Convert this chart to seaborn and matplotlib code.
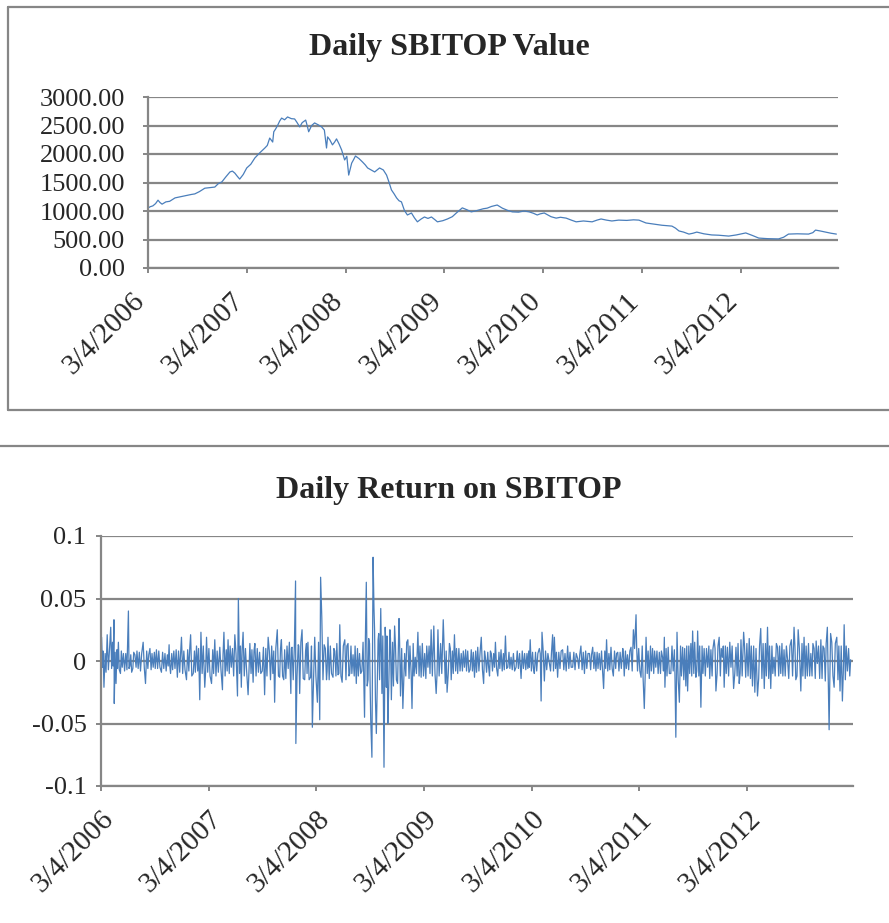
import matplotlib
matplotlib.use("Agg")
import matplotlib.pyplot as plt
import pandas as pd
import seaborn as sns
from matplotlib.lines import Line2D
from matplotlib.transforms import ScaledTranslation

# ---------------- data ----------------
start_date = "2006-03-04"

# daily SBITOP value: days after start date, index value
price_days = [0, 8, 18, 28, 37, 44, 52, 66, 80, 100, 120, 140, 160, 173, 190, 210, 228,
              247, 260, 273, 288, 303, 312, 321, 330, 339, 352, 365, 380, 395, 405, 413,
              422, 432, 441, 450, 461, 465, 472, 480, 487, 494, 505, 516, 530, 542, 550,
              561, 570, 583, 590, 594, 605, 616, 630, 642, 652, 660, 664, 672, 682, 690,
              697, 706, 716, 727, 735, 742, 753, 760, 767, 780, 793, 803, 812, 825, 838,
              856, 870, 882, 890, 900, 910, 919, 928, 937, 948, 959, 974, 985, 996, 1010,
              1022, 1035, 1048, 1060, 1070, 1090, 1107, 1125, 1140, 1162, 1180, 1195,
              1210, 1225, 1240, 1254, 1270, 1291, 1310, 1330, 1347, 1370, 1390, 1409,
              1425, 1439, 1450, 1465, 1490, 1509, 1525, 1546, 1565, 1583, 1610, 1642,
              1660, 1675, 1695, 1715, 1740, 1770, 1795, 1815, 1841, 1870, 1900, 1937,
              1950, 1963, 1980, 2000, 2015, 2029, 2055, 2084, 2110, 2147, 2175, 2210,
              2235, 2258, 2290, 2331, 2350, 2368, 2400, 2442, 2458, 2468, 2485, 2505,
              2525, 2545]
price_values = [1050, 1075, 1090, 1130, 1190, 1150, 1120, 1160, 1170, 1230, 1250, 1270,
                1290, 1300, 1340, 1400, 1410, 1420, 1480, 1510, 1600, 1685, 1700, 1665,
                1610, 1560, 1640, 1755, 1820, 1930, 1980, 2020, 2060, 2105, 2150, 2280,
                2210, 2390, 2440, 2510, 2580, 2630, 2600, 2650, 2620, 2615, 2560, 2475,
                2550, 2595, 2470, 2390, 2500, 2545, 2510, 2475, 2420, 2105, 2300, 2250,
                2160, 2210, 2265, 2180, 2070, 1895, 1960, 1630, 1840, 1900, 1965, 1920,
                1860, 1810, 1755, 1720, 1685, 1755, 1720, 1630, 1520, 1370, 1300, 1230,
                1180, 1160, 1010, 930, 965, 880, 810, 860, 895, 870, 895, 850, 810, 830,
                860, 900, 965, 1055, 1020, 985, 1000, 1020, 1040, 1050, 1080, 1105, 1050,
                1010, 985, 980, 1000, 985, 960, 930, 950, 965, 900, 875, 890, 875, 840,
                810, 825, 810, 840, 860, 840, 825, 840, 835, 845, 840, 790, 770, 750, 735,
                700, 650, 630, 595, 610, 630, 600, 580, 575, 560, 580, 615, 570, 525, 515,
                510, 540, 595, 600, 595, 620, 665, 650, 630, 610, 595]

# daily return, larger moves: days after start date, return
return_days = [2, 10, 21, 33, 39, 44, 45, 51, 59, 66, 76, 93, 98, 104, 115, 126, 143, 151,
               166, 177, 188, 205, 217, 231, 236, 247, 259, 273, 290, 304, 313, 324, 335,
               339, 352, 358, 375, 386, 403, 412, 417, 431, 442, 454, 463, 466, 476, 482,
               499, 505, 516, 522, 538, 547, 555, 567, 575, 589, 598, 606, 612, 620,
               623, 635, 644, 648, 660, 661, 669, 674, 682, 691, 697, 702, 711, 717, 725,
               734, 742, 745, 749, 757, 765, 770, 787, 793, 804, 810, 818, 827, 838, 844,
               855, 866, 877, 885, 894, 900, 906, 911, 915, 919, 923, 926, 931, 934, 940,
               945, 949, 953, 960, 964, 968, 973, 980, 985, 996, 1002, 1011, 1016, 1024,
               1030, 1041, 1052, 1055, 1066, 1075, 1086, 1098, 1109, 1120, 1129, 1137,
               1143, 1152, 1161, 1168, 1174, 1182, 1188, 1199, 1210, 1222, 1233, 1244, 1252,
               1256, 1267, 1278, 1290, 1298, 1304, 1318, 1324, 1338, 1346, 1357, 1372,
               1380, 1391, 1408, 1425, 1437, 1451, 1456, 1470, 1487, 1493, 1496, 1504,
               1521, 1532, 1538, 1549, 1566, 1583, 1600, 1617, 1628, 1640, 1657, 1668,
               1679, 1690, 1705, 1715, 1730, 1738, 1753, 1770, 1775, 1786, 1798, 1806,
               1815, 1820, 1832, 1843, 1849, 1860, 1871, 1882,
               1894, 1905, 1911, 1913, 1924, 1933, 1945, 1950, 1954, 1962, 1973, 1984,
               1990, 2001, 2007, 2018, 2024, 2035, 2046, 2058, 2069, 2080, 2086, 2097,
               2108, 2114, 2125, 2137, 2146, 2154, 2165, 2171, 2180, 2187, 2199, 2210,
               2218, 2227, 2238, 2250, 2261, 2272, 2283, 2295, 2306, 2317, 2329, 2342,
               2351, 2357, 2365, 2374, 2385, 2396, 2408, 2419, 2430, 2442, 2453, 2464,
               2470, 2475, 2487, 2496, 2507, 2515, 2521, 2532, 2543]
return_values = [0.019, -0.021, 0.021, 0.027, 0.015, 0.033, -0.034, -0.018, 0.015, -0.010,
                 0.006, 0.040, -0.004, -0.009, 0.005, -0.006, 0.015, -0.018, 0.010, -0.005,
                 0.009, -0.009, 0.006, 0.013, -0.010, 0.008, -0.013, 0.019, -0.015, 0.021,
                 -0.010, 0.012, -0.031, 0.023, -0.021, 0.019, -0.018, 0.017, 0.011, -0.023,
                 0.023, 0.017, -0.005, 0.021, -0.028, 0.050, -0.021, 0.023, -0.027, 0.014,
                 -0.017, 0.014, 0.007, -0.008, -0.027, 0.019, -0.015, -0.033, 0.025, -0.013,
                 0.017, -0.015,
                 0.009, -0.006, -0.026, 0.011, 0.064, -0.066, 0.013, -0.026, 0.025, -0.015,
                 0.014, 0.015, -0.013, -0.053, 0.019, -0.033, -0.047, 0.067, 0.035, 0.013,
                 -0.015, 0.019, -0.013, 0.008, -0.011, 0.029, -0.017, 0.017, 0.014, -0.010,
                 0.005, -0.018, 0.006, -0.008, -0.045, 0.063, -0.015, 0.014, -0.047, -0.077,
                 0.083, 0.042, -0.031, -0.058, 0.017, -0.015, 0.042, -0.026, -0.085, 0.027,
                 -0.021, -0.050, 0.025, -0.031, 0.028, -0.015, 0.034, -0.028, -0.038, 0.006,
                 0.017, -0.009, -0.038, 0.003, 0.023, -0.013, 0.006, -0.005, 0.025, 0.028,
                 -0.026, 0.025, 0.014, 0.033, -0.018, -0.025, 0.014, -0.015, 0.021, -0.010,
                 0.006, -0.005, 0.008, -0.007,
                 0.009, -0.013, 0.011, 0.019, -0.018, 0.003, -0.012, 0.006, 0.015, -0.012,
                 0.009, 0.020, -0.005, 0.003, -0.005, -0.014, 0.006, 0.008, 0.017, -0.010,
                 0.010, -0.032, 0.023, -0.016, -0.002, 0.021, 0.019, -0.013, 0.009, 0.012,
                 -0.005, 0.002, 0.012, -0.010, 0.006, 0.011, -0.008, 0.006, -0.022, 0.017,
                 0.011, -0.012, 0.007, 0.010, -0.012, 0.005, 0.011, 0.025, 0.037, -0.008,
                 -0.013, -0.038, 0.019, -0.014, 0.010, -0.005,
                 0.007, 0.003, 0.019, -0.021, 0.011, -0.010, 0.009, -0.061, 0.023, -0.033,
                 0.011, -0.020, -0.024, 0.014, 0.024, -0.013, 0.024, -0.037, 0.010, -0.005,
                 0.009, 0.017, -0.024, 0.019, 0.003, -0.021, 0.011, -0.005, -0.022, 0.011,
                 -0.018, 0.017, 0.023, -0.013, 0.018, -0.020, -0.025, -0.028, 0.026, -0.022,
                 0.027, -0.022, 0.003, 0.011, -0.010, 0.009, 0.001, 0.017, 0.027, -0.015,
                 0.025, -0.024, 0.019, -0.012, 0.006, 0.010, -0.002, 0.017, 0.010, 0.027,
                 -0.055, 0.022, -0.021, 0.019, -0.024, -0.032, 0.029, -0.008, 0.001]

# daily return, smaller in-between moves (day, return)
return_detail = [
    (5, -0.005), (7, 0.008), (14, 0.006), (17, -0.009), (25, -0.007), (29, 0.010),
    (36, -0.006), (41, -0.004), (48, 0.007), (54, 0.009), (56, -0.006), (62, -0.007),
    (69, 0.008), (72, -0.005), (80, -0.008), (84, 0.006), (88, -0.007), (95, -0.006),
    (101, 0.005), (108, -0.006), (111, 0.007), (119, -0.005), (122, 0.008), (130, 0.007),
    (134, -0.008), (138, 0.006), (147, -0.006), (155, 0.008), (159, -0.006), (162, 0.005),
    (170, -0.007), (173, 0.006), (181, 0.007), (184, -0.006), (192, -0.006), (196, 0.008),
    (200, -0.005), (209, 0.007), (213, -0.006), (221, -0.008), (225, 0.005), (228, -0.004),
    (233, -0.003), (240, 0.006), (243, -0.007), (251, -0.006), (255, 0.009), (263, 0.008),
    (267, -0.009), (270, 0.006), (277, -0.010), (281, 0.008), (285, -0.007), (294, 0.009),
    (298, -0.008), (301, 0.010), (308, -0.012), (317, 0.008), (320, -0.009), (328, -0.008),
    (331, 0.010), (343, -0.010), (347, 0.012), (355, -0.008), (362, -0.009), (366, 0.010),
    (370, -0.012), (379, 0.009), (382, -0.010), (390, -0.012), (394, 0.008), (398, -0.009),
    (407, -0.007), (414, 0.005), (421, -0.012), (425, 0.009), (428, -0.008), (435, -0.010),
    (438, 0.012), (446, 0.010), (450, -0.012), (458, 0.006), (470, -0.010), (473, 0.012),
    (479, 0.010), (486, -0.012), (490, 0.010), (494, -0.008), (502, -0.008), (509, -0.010),
    (512, 0.009), (519, 0.008), (526, -0.012), (530, 0.010), (534, -0.009), (542, -0.010),
    (551, 0.011), (559, 0.010), (563, -0.012), (571, 0.008), (579, 0.012), (583, -0.010),
    (586, 0.008), (593, 0.010), (602, -0.012), (609, 0.010), (616, -0.012),
    (627, -0.014), (631, 0.012), (639, 0.015), (646, 0.010), (652, -0.015), (656, 0.012),
    (665, -0.012), (671, 0.012), (678, 0.015), (686, -0.014), (694, 0.008), (699, -0.010),
    (706, -0.015), (714, 0.012), (721, -0.015), (729, -0.012), (738, 0.015), (753, -0.015),
    (761, 0.010), (767, -0.008), (774, -0.015), (778, 0.012), (782, -0.010), (790, 0.010),
    (797, -0.012), (800, 0.014), (807, -0.010), (814, -0.012), (822, 0.012), (831, -0.015),
    (834, 0.012), (841, -0.012), (848, 0.012), (851, -0.010), (859, -0.012), (862, 0.012),
    (870, 0.010), (873, -0.012), (881, -0.010), (889, 0.015), (897, 0.020), (903, -0.020),
    (908, 0.018), (913, -0.020), (928, 0.025), (937, -0.020), (942, 0.022), (956, 0.020),
    (966, 0.015), (970, 0.020), (976, -0.022), (982, 0.018), (989, 0.015), (992, -0.020),
    (999, 0.012), (1006, -0.018), (1013, 0.015), (1020, 0.010), (1027, -0.015),
    (1034, -0.012), (1037, 0.015), (1045, -0.014), (1048, 0.012), (1059, 0.014),
    (1062, -0.012), (1070, -0.010), (1079, -0.012), (1082, 0.012), (1090, 0.014),
    (1094, -0.012), (1102, -0.014), (1105, 0.012), (1113, 0.012), (1116, -0.010),
    (1124, -0.012), (1133, -0.010), (1140, -0.010), (1147, -0.012), (1156, -0.010),
    (1164, 0.012), (1171, 0.008), (1178, -0.010), (1185, 0.010), (1192, 0.008),
    (1195, -0.010), (1203, -0.008), (1206, 0.010), (1214, 0.010), (1218, -0.008),
    (1226, -0.008), (1229, 0.008), (1237, 0.009), (1240, -0.008), (1248, -0.009),
    (1260, -0.008), (1263, 0.007), (1271, 0.008), (1274, -0.009), (1282, -0.008),
    (1286, 0.007), (1294, -0.007), (1301, 0.008), (1308, -0.009), (1312, 0.007),
    (1315, -0.005), (1321, 0.008), (1328, -0.008), (1332, 0.006), (1335, -0.005),
    (1342, -0.006), (1350, 0.007), (1353, -0.006), (1361, -0.008), (1365, 0.006),
    (1368, -0.007), (1376, -0.006), (1384, 0.007), (1387, -0.006), (1395, -0.007),
    (1399, 0.006), (1403, -0.008), (1412, 0.008), (1416, -0.006), (1420, 0.006),
    (1429, 0.008), (1433, -0.006), (1441, -0.007), (1445, 0.006), (1448, -0.006),
    (1453, -0.005), (1460, -0.008), (1464, 0.007), (1467, -0.006), (1474, 0.007),
    (1478, -0.008), (1482, 0.006), (1490, 0.006), (1500, 0.008), (1508, 0.008),
    (1512, -0.007), (1516, 0.006), (1525, -0.008), (1528, 0.006), (1535, -0.008),
    (1542, -0.006), (1545, 0.007), (1553, 0.007), (1557, -0.006), (1561, 0.008),
    (1570, -0.007), (1574, 0.006), (1578, -0.008), (1587, -0.006), (1591, 0.007),
    (1595, -0.005), (1604, 0.007), (1608, -0.007), (1612, 0.006), (1621, -0.006),
    (1624, 0.005), (1632, -0.007), (1636, 0.007), (1644, 0.008), (1648, -0.006),
    (1652, 0.006), (1661, -0.007), (1664, 0.005), (1672, -0.006), (1675, 0.007),
    (1683, 0.007), (1686, -0.006), (1694, -0.007), (1698, 0.008), (1701, -0.006),
    (1709, 0.008), (1712, -0.006), (1719, -0.008), (1723, 0.006), (1726, -0.007),
    (1734, -0.006), (1742, 0.008), (1746, -0.006), (1749, 0.006), (1757, -0.008),
    (1761, 0.007), (1765, -0.006), (1772, 0.006), (1779, 0.008), (1782, -0.006),
    (1790, -0.007), (1794, 0.008), (1802, -0.008), (1810, 0.010), (1817, 0.012),
    (1824, 0.010), (1828, -0.008), (1836, 0.012), (1839, -0.014), (1846, -0.012),
    (1853, -0.010), (1856, 0.008), (1864, 0.012), (1867, -0.008), (1875, -0.010),
    (1878, 0.008), (1886, 0.008), (1890, -0.010), (1898, -0.010), (1901, 0.008),
    (1908, -0.008), (1917, 0.010), (1920, -0.012), (1928, -0.010), (1937, 0.012),
    (1941, -0.008), (1947, -0.010), (1958, -0.015), (1966, 0.012), (1969, -0.012),
    (1977, -0.015), (1980, 0.010), (1987, 0.012), (1994, 0.012), (1997, -0.010),
    (2004, -0.012), (2011, -0.010), (2014, 0.015), (2021, -0.008), (2028, -0.012),
    (2031, 0.012), (2039, 0.012), (2042, -0.010), (2050, -0.012), (2054, 0.010),
    (2062, 0.012), (2065, -0.014), (2073, -0.012), (2076, 0.010), (2083, 0.010),
    (2090, -0.010), (2093, 0.012), (2101, -0.012), (2104, 0.010), (2111, 0.012),
    (2118, 0.012), (2121, -0.010), (2129, -0.012), (2133, 0.015), (2141, 0.012),
    (2150, -0.010), (2158, -0.012), (2161, 0.014), (2168, -0.010), (2175, -0.012),
    (2183, 0.012), (2191, 0.014), (2195, -0.012), (2203, -0.014), (2206, 0.012),
    (2214, 0.012), (2222, 0.010), (2231, -0.014), (2234, 0.012), (2242, -0.014),
    (2246, 0.014), (2254, 0.014), (2257, -0.012), (2265, -0.014), (2268, 0.012),
    (2276, 0.012), (2279, -0.010), (2287, -0.012), (2291, 0.014), (2299, -0.012),
    (2302, 0.012), (2310, 0.014), (2313, -0.012), (2321, -0.012), (2325, 0.012),
    (2333, -0.014), (2337, 0.012), (2346, -0.012), (2354, 0.012), (2361, -0.012),
    (2369, 0.010), (2378, 0.014), (2381, -0.012), (2389, -0.014), (2392, 0.012),
    (2400, 0.014), (2404, -0.012), (2412, -0.012), (2415, 0.014), (2423, -0.014),
    (2426, 0.016), (2434, 0.012), (2438, -0.014), (2446, -0.014), (2449, 0.012),
    (2457, -0.016), (2460, 0.014), (2467, -0.015), (2472, -0.020), (2479, 0.015),
    (2483, -0.012), (2491, 0.014), (2500, -0.015), (2503, 0.012), (2511, 0.012),
    (2518, -0.010), (2525, -0.015), (2528, 0.012), (2536, 0.010), (2540, -0.012),
]

tick_dates = ["2006-03-04", "2007-03-04", "2008-03-04", "2009-03-04",
              "2010-03-04", "2011-03-04", "2012-03-04"]
tick_labels = ["3/4/2006", "3/4/2007", "3/4/2008", "3/4/2009",
               "3/4/2010", "3/4/2011", "3/4/2012"]
axis_end = "2013-02-26"

price_ticks = [0, 500, 1000, 1500, 2000, 2500, 3000]
price_tick_labels = ["0.00", "500.00", "1000.00", "1500.00", "2000.00", "2500.00", "3000.00"]
return_ticks = [-0.1, -0.05, 0, 0.05, 0.1]
return_tick_labels = ["-0.1", "-0.05", "0", "0.05", "0.1"]

title_top = "Daily SBITOP Value"
title_bottom = "Daily Return on SBITOP"

# ---------------- style ----------------
sns.set_style("white")
plt.rcParams["font.family"] = ["Liberation Serif", "DejaVu Serif"]

LINE = "#4A7EBB"
GRID = "#868686"
W, H = 889, 923

fig = plt.figure(figsize=(W / 100, H / 100), dpi=100)


def rect(l, t, r, b):
    return [l / W, 1 - b / H, (r - l) / W, (b - t) / H]


start = pd.Timestamp(start_date)
price_df = pd.DataFrame({"Date": start + pd.to_timedelta(price_days, unit="D"),
                         "Value": price_values})
all_days = list(return_days) + [d for d, _ in return_detail]
all_vals = list(return_values) + [v for _, v in return_detail]
ret_df = pd.DataFrame({"Date": start + pd.to_timedelta(all_days, unit="D"),
                       "Return": all_vals}).sort_values("Date")
tdates = pd.to_datetime(tick_dates)

ax1 = fig.add_axes(rect(148, 97, 838, 268))
ax2 = fig.add_axes(rect(101, 536, 853, 786))

sns.lineplot(data=price_df, x="Date", y="Value", ax=ax1, color=LINE, lw=0.9)
sns.lineplot(data=ret_df, x="Date", y="Return", ax=ax2, color=LINE, lw=0.9)

for ax, yt, ytl, ylim, ypad, xshift in (
        (ax1, price_ticks, price_tick_labels, (0, 3000), 13, -16),
        (ax2, return_ticks, return_tick_labels, (-0.1, 0.1), 7, 0)):
    ax.set_xlim(start, pd.Timestamp(axis_end))
    ax.set_ylim(*ylim)
    ax.set_yticks(yt)
    ax.set_yticklabels(ytl, fontsize=19)
    ax.set_xticks(tdates)
    ax.set_xticklabels(tick_labels, fontsize=21, rotation=45,
                       ha="right", va="top", rotation_mode="anchor")
    ax.set_xlabel("")
    ax.set_ylabel("")
    ax.yaxis.grid(True, color=GRID, lw=1.6)
    ax.xaxis.grid(False)
    ax.set_axisbelow(True)
    for s in ("top", "right"):
        ax.spines[s].set_visible(False)
    for s in ("left", "bottom"):
        ax.spines[s].set_color(GRID)
        ax.spines[s].set_linewidth(1.6)
    ax.tick_params(axis="both", direction="out", length=3.5, width=1.4, color=GRID,
                   left=True, bottom=True)
    ax.tick_params(axis="y", pad=ypad)
    ax.tick_params(axis="x", pad=11)
    ax.set_facecolor("none")
    off = ScaledTranslation(xshift / 100, 0, fig.dpi_scale_trans)
    for lab in ax.get_xticklabels():
        lab.set_transform(lab.get_transform() + off)

fig.text(449 / W, 1 - 47 / H, title_top, ha="center", va="center",
         fontsize=23, fontweight="bold")
fig.text(449 / W, 1 - 490 / H, title_bottom, ha="center", va="center",
         fontsize=23, fontweight="bold")

# chart-area frame lines
fig.add_artist(Line2D([8 / W, 8 / W], [1 - 7 / H, 1 - 410 / H], color=GRID, lw=1.6))
fig.add_artist(Line2D([8 / W, 1.0], [1 - 7 / H, 1 - 7 / H], color=GRID, lw=1.6))
fig.add_artist(Line2D([8 / W, 1.0], [1 - 410 / H, 1 - 410 / H], color=GRID, lw=1.6))
fig.add_artist(Line2D([0, 1.0], [1 - 446 / H, 1 - 446 / H], color=GRID, lw=1.6))

fig.savefig("out.png", dpi=100)
